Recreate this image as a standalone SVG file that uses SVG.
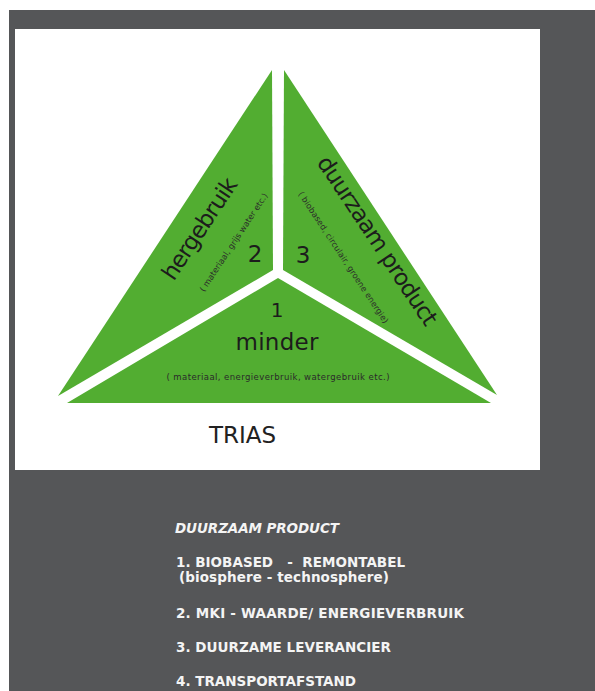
<svg xmlns="http://www.w3.org/2000/svg" width="595" height="691" viewBox="0 0 595 691">
<style>
.g{fill:#52ad31}
.big{font-family:"DejaVu Sans",sans-serif;font-size:23px;fill:#1c1c1c}
.sm{font-family:"DejaVu Sans",sans-serif;font-size:8.3px;fill:#2a2a2a}
.num{font-family:"DejaVu Sans",sans-serif;font-size:23px;fill:#1c1c1c;text-anchor:middle}
.w{font-family:"DejaVu Sans",sans-serif;font-size:13.5px;font-weight:bold;fill:#f4f4f4;white-space:pre}
</style>
<rect x="0" y="0" width="595" height="691" fill="#ffffff"/>
<rect x="9" y="10" width="586" height="681" fill="#555658"/>
<rect x="15" y="29" width="525" height="441" fill="#ffffff"/>
<g id="piece-hergebruik">
<polygon class="g" points="272,70 273,270 58,396"/>
<text class="big" text-anchor="middle" textLength="117" transform="translate(206,233) rotate(-56.5)">hergebruik</text>
<text class="sm" text-anchor="middle" textLength="116" transform="translate(236,244) rotate(-56.5)">( materiaal, grijs water etc.)</text>
<text class="num" x="255" y="262">2</text>
</g>
<g id="piece-duurzaam">
<polygon class="g" points="284,70 283,270 497,395"/>
<text class="big" text-anchor="middle" textLength="198" transform="translate(371,245) rotate(56.5)">duurzaam product</text>
<text class="sm" text-anchor="middle" textLength="156" transform="translate(341,259) rotate(56.5)">( biobased, circulair, groene energie)</text>
<text class="num" x="303" y="263">3</text>
</g>
<g id="piece-minder">
<polygon class="g" points="278,278 491,403 67,403"/>
<text class="num" x="277" y="317" style="font-size:20px">1</text>
<text class="big" x="277" y="350" text-anchor="middle" textLength="83">minder</text>
<text class="sm" x="278" y="380" text-anchor="middle" textLength="223" style="font-size:8.5px">( materiaal, energieverbruik, watergebruik etc.)</text>
</g>
<g id="title">
<text x="242.5" y="443" text-anchor="middle" style="font-family:'DejaVu Sans',sans-serif;font-size:23px;fill:#222">TRIAS</text>
</g>
<g id="list">
<text class="w" x="175" y="533" textLength="164" style="font-style:italic">DUURZAAM PRODUCT</text>
<text class="w" x="176" y="567" textLength="229">1. BIOBASED   -  REMONTABEL</text>
<text class="w" x="179" y="582" textLength="210">(biosphere - technosphere)</text>
<text class="w" x="176" y="618" textLength="288">2. MKI - WAARDE/ ENERGIEVERBRUIK</text>
<text class="w" x="176" y="652" textLength="215">3. DUURZAME LEVERANCIER</text>
<text class="w" x="176" y="686" textLength="180">4. TRANSPORTAFSTAND</text>
</g>
<g id="connectors"></g>
</svg>
